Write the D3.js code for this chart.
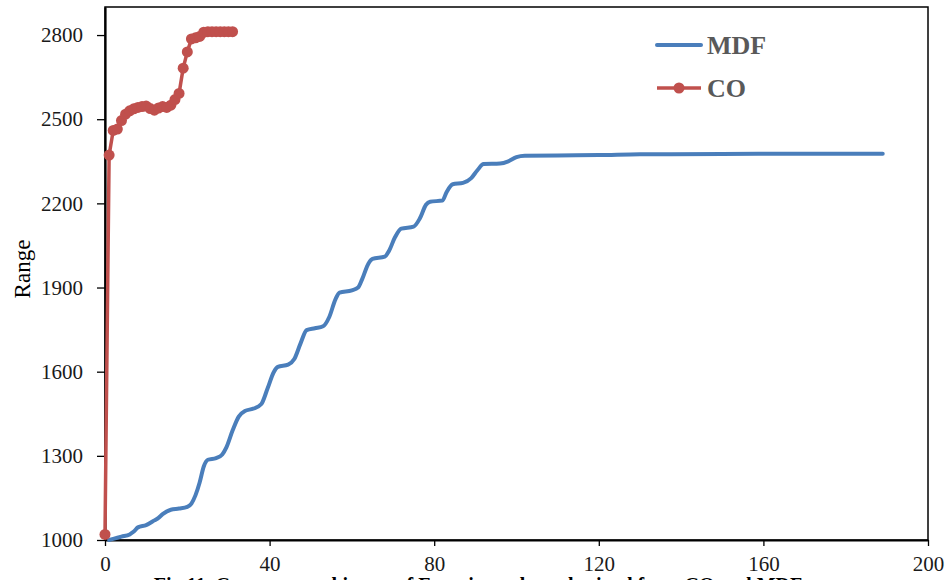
<!DOCTYPE html>
<html>
<head>
  <meta charset="utf-8">
  <title>Convergence history</title>
  <script src="https://d3js.org/d3.v7.min.js"></script>
  <style>
    body { margin: 0; background: #fff; }
    svg text { font-family: "Liberation Serif", "Times New Roman", serif; }
    .axis text { font-size: 21px; fill: #1a1a1a; }
    .axis path, .axis line { stroke: #000; }
  </style>
</head>
<body>
<div id="chart"></div>
<script>
  "use strict"

  // MDF curve: iteration and function value
  var mdfIter = [1, 2, 4, 6, 7, 8, 10, 12, 13, 14, 16, 18, 20, 21, 22, 23, 24, 25, 27, 28.5,
                 29.5, 31, 32.5, 34, 36, 38, 39.5, 41, 42, 44.5, 46, 47.5, 49, 51, 53, 54.5,
                 56, 57, 60, 61.5, 62.5, 64, 65, 68, 69, 70.5, 72, 75, 76.5, 78, 79, 82, 83,
                 84.5, 87, 89, 90.5, 92, 96, 98, 100, 102, 110, 120, 130, 150, 170, 189];
  var mdfValue = [1000, 1004, 1012, 1020, 1030, 1045, 1053, 1070, 1079, 1092, 1108, 1112, 1118, 1130, 1160, 1205, 1262, 1286, 1292, 1305,
                  1330, 1390, 1440, 1460, 1468, 1485, 1540, 1598, 1617, 1625, 1645, 1700, 1748, 1755, 1762, 1795,
                  1858, 1882, 1890, 1900, 1930, 1985, 2002, 2010, 2030, 2080, 2110, 2117, 2146, 2195, 2206, 2210, 2240,
                  2268, 2273, 2290, 2318, 2340, 2342, 2350, 2365, 2370, 2371, 2372, 2375, 2376, 2377, 2377];

  // CO curve, one point per iteration
  var coIter = [0, 1, 2, 3, 4, 5, 6, 7, 8, 9, 10, 11, 12, 13, 14, 15, 16, 17, 18, 19,
                20, 21, 22, 23, 24, 25, 26, 27, 28, 29, 30, 31];
  var coValue = [1020, 2372, 2460, 2465, 2495, 2518, 2530, 2537, 2542, 2545, 2547, 2538, 2532, 2540, 2545, 2542, 2550, 2570, 2592, 2682,
                 2740, 2786, 2790, 2795, 2810, 2812, 2812, 2812, 2812, 2812, 2812, 2812];

  var xTicks = [0, 40, 80, 120, 160, 200];
  var yTicks = [1000, 1300, 1600, 1900, 2200, 2500, 2800];
  var seriesNames = ["MDF", "CO"];

  var larg = 945, alt = 580;
  var esq = 105, dir = 928, topo = 7, base = 540;

  var svg = d3.select('#chart').append('svg')
      .attr('width', larg)
      .attr('height', alt);

  var x = d3.scaleLinear().domain([0, 200]).range([esq, dir]);
  var y = d3.scaleLinear().domain([1000, 2900]).range([base, topo]);

  // plot area frame
  svg.append('rect')
      .attr('x', esq).attr('y', topo)
      .attr('width', dir - esq).attr('height', base - topo)
      .attr('fill', 'none').attr('stroke', '#000').attr('stroke-width', 1.5);

  var eixoX = svg.append('g')
      .attr('class', 'axis')
      .attr('transform', 'translate(0,' + base + ')')
      .call(d3.axisBottom(x).tickValues(xTicks).tickSize(6).tickSizeOuter(0).tickPadding(10).tickFormat(d3.format('d')));
  eixoX.select('.domain').attr('stroke-width', 2.2);
  eixoX.selectAll('.tick line').attr('stroke-width', 1.3);

  var eixoY = svg.append('g')
      .attr('class', 'axis')
      .attr('transform', 'translate(' + esq + ',0)')
      .call(d3.axisLeft(y).tickValues(yTicks).tickSize(8).tickSizeOuter(0).tickPadding(14).tickFormat(d3.format('d')));
  eixoY.select('.domain').attr('stroke-width', 2.2);
  eixoY.selectAll('.tick line').attr('stroke-width', 1.3);

  svg.append('text')
      .attr('transform', 'translate(30,269) rotate(-90)')
      .attr('text-anchor', 'middle')
      .style('font-size', '23px')
      .style('fill', '#000')
      .text('Range');

  var mdf = mdfIter.map(function(d, i) { return [d, mdfValue[i]]; });
  var co = coIter.map(function(d, i) { return [d, coValue[i]]; });

  var linhaSuave = d3.line()
      .x(function(d) { return x(d[0]); })
      .y(function(d) { return y(d[1]); })
      .curve(d3.curveMonotoneX);
  var linha = d3.line()
      .x(function(d) { return x(d[0]); })
      .y(function(d) { return y(d[1]); });

  // MDF line (smooth)
  svg.append('path')
      .datum(mdf)
      .attr('d', linhaSuave)
      .attr('fill', 'none')
      .attr('stroke', '#4a7ebb')
      .attr('stroke-width', 4)
      .attr('stroke-linejoin', 'round')
      .attr('stroke-linecap', 'round');

  // CO line with markers
  svg.append('path')
      .datum(co)
      .attr('d', linha)
      .attr('fill', 'none')
      .attr('stroke', '#c0504d')
      .attr('stroke-width', 3.5)
      .attr('stroke-linejoin', 'round');

  svg.append('g').selectAll('circle')
      .data(co)
      .enter()
      .append('circle')
        .attr('cx', function(d) { return x(d[0]); })
        .attr('cy', function(d) { return y(d[1]); })
        .attr('r', 5.5)
        .attr('fill', '#c0504d');

  // legend
  var leg = svg.append('g');
  leg.append('line')
      .attr('x1', 657).attr('x2', 701).attr('y1', 45).attr('y2', 45)
      .attr('stroke', '#4a7ebb').attr('stroke-width', 4).attr('stroke-linecap', 'round');
  leg.append('line')
      .attr('x1', 657).attr('x2', 701).attr('y1', 88).attr('y2', 88)
      .attr('stroke', '#c0504d').attr('stroke-width', 3.5);
  leg.append('circle')
      .attr('cx', 679).attr('cy', 88).attr('r', 5.5)
      .attr('fill', '#c0504d');
  leg.selectAll('text.leg')
      .data(seriesNames)
      .enter()
      .append('text')
        .attr('class', 'leg')
        .attr('x', 707)
        .attr('y', function(d, i) { return 54 + i * 43; })
        .style('font-size', '26px')
        .style('font-weight', 'bold')
        .style('fill', '#595959')
        .text(function(d) { return d; });

  // caption, cut off at the bottom edge as in the source figure
  svg.append('text')
      .attr('x', 478).attr('y', 592)
      .attr('text-anchor', 'middle')
      .style('font-size', '20px')
      .style('font-weight', 'bold')
      .style('fill', '#000')
      .text('Fig.11. Convergence history of Function values obtained from CO and MDF');
</script>
</body>
</html>
